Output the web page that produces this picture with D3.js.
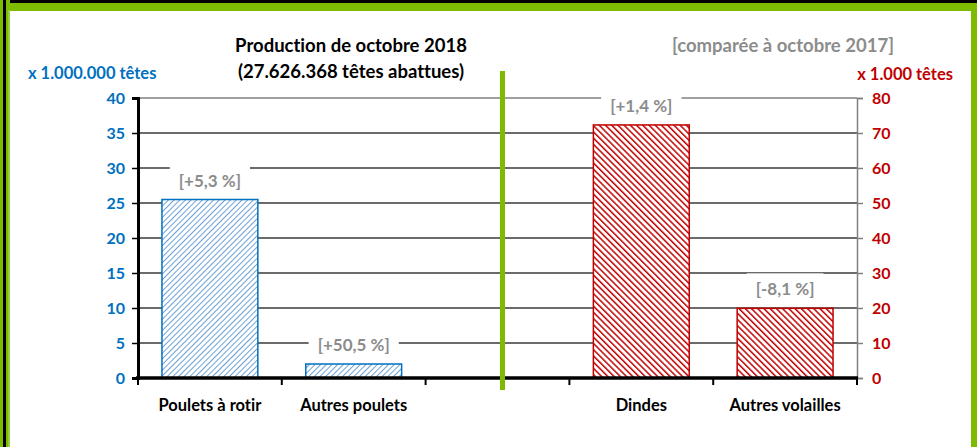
<!doctype html>
<html lang="fr">
<head>
<meta charset="utf-8">
<title>Production de octobre 2018</title>
<script src="https://cdn.jsdelivr.net/npm/d3@7"></script>
<style>
  body { margin: 0; background: #fff; }
  svg { display: block; font-family: Lato, "Open Sans", sans-serif; font-weight: bold; font-variant-ligatures: none; }
</style>
</head>
<body>
<svg id="chart" width="977" height="447"></svg>
<script>
// data (left: millions of heads, right: thousands of heads)
var categories = ["Poulets à rotir", "Autres poulets", " ", "Dindes", "Autres volailles"];
var leftCats = ["Poulets à rotir", "Autres poulets"];
var leftValues = [25.5, 2.0];
var leftChanges = ["[+5,3 %]", "[+50,5 %]"];
var rightCats = ["Dindes", "Autres volailles"];
var rightValues = [72.3, 19.9];
var rightChanges = ["[+1,4 %]", "[-8,1 %]"];
var leftTicks = [0, 5, 10, 15, 20, 25, 30, 35, 40];
var rightTicks = [0, 10, 20, 30, 40, 50, 60, 70, 80];

var blue = "#0070C0", red = "#C00000", green = "#7DBA00", grey = "#8C8C8C";

var svg = d3.select("#chart");
var defs = svg.append("defs");

// hatch patterns
var pb = defs.append("pattern").attr("id", "hatchBlue")
  .attr("patternUnits", "userSpaceOnUse").attr("width", 4).attr("height", 4)
  .attr("patternTransform", "rotate(45)");
pb.append("rect").attr("width", 4).attr("height", 4).attr("fill", "#fff");
pb.append("line").attr("x1", 0).attr("y1", 0).attr("x2", 0).attr("y2", 4)
  .attr("stroke", "#5E97D0").attr("stroke-width", 1.8);

var pr = defs.append("pattern").attr("id", "hatchRed")
  .attr("patternUnits", "userSpaceOnUse").attr("width", 4.4).attr("height", 4.4)
  .attr("patternTransform", "rotate(-45)");
pr.append("rect").attr("width", 4.4).attr("height", 4.4).attr("fill", "#fff");
pr.append("line").attr("x1", 0).attr("y1", 0).attr("x2", 0).attr("y2", 4.4)
  .attr("stroke", red).attr("stroke-width", 3);

// frame
svg.append("rect").attr("x", 0).attr("y", 0).attr("width", 977).attr("height", 3).attr("fill", "#000");
svg.append("rect").attr("x", 0).attr("y", 3).attr("width", 977).attr("height", 8).attr("fill", green);
svg.append("rect").attr("x", 0).attr("y", 0).attr("width", 10).attr("height", 447).attr("fill", green);
svg.append("rect").attr("x", 3).attr("y", 0).attr("width", 3).attr("height", 447).attr("fill", "#000");
svg.append("rect").attr("x", 8).attr("y", 10).attr("width", 2).attr("height", 437).attr("fill", "#9ACD3C");
svg.append("rect").attr("x", 971).attr("y", 3).attr("width", 6).attr("height", 444).attr("fill", green);

var x = d3.scaleBand().domain(categories).range([138, 857])
  .paddingInner(1 / 3).paddingOuter(1 / 6);
var yL = d3.scaleLinear().domain([0, 40]).range([378, 98]);
var yR = d3.scaleLinear().domain([0, 80]).range([378, 98]);

// gridlines
svg.append("g").selectAll("line").data(leftTicks.slice(1)).join("line")
  .attr("x1", 138).attr("x2", 857)
  .attr("y1", function(d) { return yL(d); }).attr("y2", function(d) { return yL(d); })
  .attr("stroke", function(d) { return d == 40 ? "#808080" : "#3A3A3A"; })
  .attr("stroke-width", 1.3);

// bars
svg.append("g").selectAll("rect").data(leftValues).join("rect")
  .attr("x", function(d, i) { return x(leftCats[i]); })
  .attr("y", function(d) { return yL(d); })
  .attr("width", x.bandwidth())
  .attr("height", function(d) { return yL(0) - yL(d); })
  .attr("fill", "url(#hatchBlue)").attr("stroke", blue).attr("stroke-width", 1.5);

svg.append("g").selectAll("rect").data(rightValues).join("rect")
  .attr("x", function(d, i) { return x(rightCats[i]); })
  .attr("y", function(d) { return yR(d); })
  .attr("width", x.bandwidth())
  .attr("height", function(d) { return yR(0) - yR(d); })
  .attr("fill", "url(#hatchRed)").attr("stroke", red).attr("stroke-width", 1.5);

// change labels with white boxes
function changeLabel(cat, yPos, txt) {
  var cx = x(cat) + x.bandwidth() / 2;
  var g = svg.append("g");
  var t = g.append("text").attr("x", cx).attr("y", yPos - 13)
    .attr("text-anchor", "middle").attr("font-size", 17).attr("fill", grey).text(txt);
  var w = t.node().getComputedTextLength();
  g.insert("rect", "text").attr("x", cx - w / 2 - 9).attr("y", yPos - 35)
    .attr("width", w + 18).attr("height", 28).attr("fill", "#fff");
}
leftValues.forEach(function(d, i) { changeLabel(leftCats[i], yL(d), leftChanges[i]); });
rightValues.forEach(function(d, i) { changeLabel(rightCats[i], yR(d), rightChanges[i]); });

// left axis
var gl = svg.append("g").attr("transform", "translate(138,0)")
  .call(d3.axisLeft(yL).tickValues(leftTicks).tickSize(6).tickPadding(7));
gl.select(".domain").attr("stroke", "#000").attr("stroke-width", 3);
gl.selectAll(".tick line").attr("stroke", "#000").attr("stroke-width", 1.5);
gl.selectAll("text").attr("fill", blue).attr("font-size", 16)
  .attr("font-family", "Lato, sans-serif").attr("font-weight", "bold");

// right axis
var gr = svg.append("g").attr("transform", "translate(857,0)")
  .call(d3.axisRight(yR).tickValues(rightTicks).tickSize(6).tickPadding(9));
gr.select(".domain").attr("stroke", "#808080").attr("stroke-width", 1.5);
gr.selectAll(".tick line").attr("stroke", "#808080").attr("stroke-width", 1.5);
gr.selectAll("text").attr("fill", red).attr("font-size", 16)
  .attr("font-family", "Lato, sans-serif").attr("font-weight", "bold");

// bottom axis
var slotEdges = d3.range(categories.length + 1).map(function(i) { return 138 + i * x.step(); });
svg.append("line").attr("x1", 136).attr("x2", 858).attr("y1", 378).attr("y2", 378)
  .attr("stroke", "#000").attr("stroke-width", 3.5);
svg.append("g").selectAll("line").data(slotEdges).join("line")
  .attr("x1", function(d) { return d; }).attr("x2", function(d) { return d; })
  .attr("y1", 378).attr("y2", 385).attr("stroke", "#000").attr("stroke-width", 2);
svg.append("g").selectAll("text").data(categories.filter(function(c) { return c.trim() != ""; })).join("text")
  .attr("x", function(d) { return x(d) + x.bandwidth() / 2; })
  .attr("y", 411).attr("text-anchor", "middle").attr("font-size", 16.5).attr("fill", "#000")
  .text(function(d) { return d; });

// divider
svg.append("rect").attr("x", 500).attr("y", 71).attr("width", 5).attr("height", 319).attr("fill", green);

// titles
svg.append("text").attr("x", 351).attr("y", 52).attr("text-anchor", "middle")
  .attr("font-size", 18.5).attr("fill", "#000").text("Production de octobre 2018");
svg.append("text").attr("x", 351).attr("y", 78).attr("text-anchor", "middle")
  .attr("font-size", 18.5).attr("fill", "#000").text("(27.626.368 têtes abattues)");
svg.append("text").attr("x", 783).attr("y", 52).attr("text-anchor", "middle")
  .attr("font-size", 18.5).attr("fill", grey).text("[comparée à octobre 2017]");
svg.append("text").attr("x", 28).attr("y", 79)
  .attr("font-size", 16.5).attr("fill", blue).text("x 1.000.000 têtes");
svg.append("text").attr("x", 953).attr("y", 80).attr("text-anchor", "end")
  .attr("font-size", 16.5).attr("fill", red).text("x 1.000 têtes");
</script>
</body>
</html>
